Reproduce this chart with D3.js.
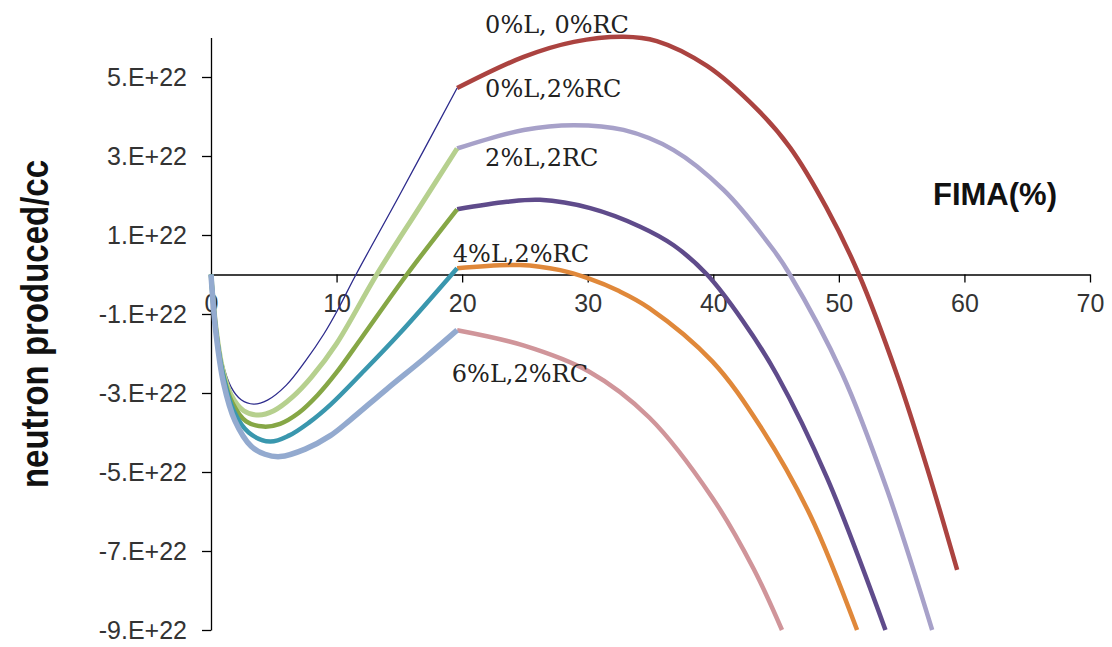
<!DOCTYPE html>
<html>
<head>
<meta charset="utf-8">
<script src="https://cdn.jsdelivr.net/npm/d3@7/dist/d3.min.js"></script>
<style>
  html, body { margin: 0; padding: 0; background: #fff; }
  svg { display: block; }
</style>
</head>
<body>
<svg id="chart" width="1112" height="647"></svg>
<script>
// ---------------- DATA ----------------
const UNIT = 1e22;
const xTicks = [0, 10, 20, 30, 40, 50, 60, 70];
const yTicks = [-9, -7, -5, -3, -1, 1, 3, 5];           // in units of 1e22
const yTickLabels = ["-9.E+22", "-7.E+22", "-5.E+22", "-3.E+22", "-1.E+22", "1.E+22", "3.E+22", "5.E+22"];
const xTitle = "FIMA(%)";
const yTitle = "neutron produced/cc";

// First stage (0 - 20 % FIMA), values in 1e22
const s1_0L0RC_x = [0, 0.4, 0.9, 1.6, 2.4, 3.4, 4.5, 6, 7.5, 9, 10, 11.55, 15, 19.6];
const s1_0L0RC_y = [0, -1.3, -2.2, -2.85, -3.17, -3.28, -3.18, -2.8, -2.2, -1.5, -0.95, 0, 2.0, 4.72];

const s1_0L2RC_x = [0, 0.4, 0.9, 1.6, 2.6, 3.8, 5, 6.5, 8, 10, 13.2, 16.5, 19.6];
const s1_0L2RC_y = [0, -1.35, -2.35, -3.05, -3.45, -3.56, -3.45, -3.1, -2.6, -1.75, 0, 1.65, 3.19];

const s1_2L2RC_x = [0, 0.4, 0.9, 1.7, 2.8, 4.2, 5.5, 7, 8.5, 10, 12, 15.6, 19.6];
const s1_2L2RC_y = [0, -1.4, -2.45, -3.25, -3.72, -3.85, -3.78, -3.5, -3.05, -2.48, -1.6, 0, 1.65];

const s1_4L2RC_x = [0, 0.4, 1, 1.8, 3, 4.7, 6.2, 7.8, 9.5, 12, 15, 19.6];
const s1_4L2RC_y = [0, -1.45, -2.6, -3.45, -4.0, -4.23, -4.08, -3.75, -3.3, -2.5, -1.5, 0.16];

const s1_6L2RC_x = [0, 0.4, 1, 1.9, 3.2, 4.3, 5.5, 7.5, 9.5, 11.1, 14, 17, 19.6];
const s1_6L2RC_y = [0, -1.5, -2.75, -3.7, -4.35, -4.55, -4.61, -4.42, -4.08, -3.68, -2.9, -2.12, -1.41];

// Second stage (from 20 % FIMA), values in 1e22
const s2_0L0RC_x = [19.6, 24.9, 28.9, 32.85, 35.5, 39.5, 43.5, 46.1, 49, 51.6, 54.64, 57.03, 59.42];
const s2_0L0RC_y = [4.72, 5.51, 5.89, 6.02, 5.91, 5.28, 4.18, 3.22, 1.7, 0, -2.55, -4.9, -7.48];

const s2_0L2RC_x = [19.6, 24.9, 28.9, 32.85, 36.84, 40.82, 44.8, 46.0, 50.25, 53.84, 57.43];
const s2_0L2RC_y = [3.19, 3.66, 3.78, 3.66, 3.15, 2.14, 0.62, 0.05, -2.5, -5.45, -9.0];

const s2_2L2RC_x = [19.6, 23.56, 26.2, 30.2, 34.18, 36.84, 39.5, 42.3, 45.08, 49.06, 53.71];
const s2_2L2RC_y = [1.65, 1.84, 1.89, 1.68, 1.21, 0.74, 0.0, -1.15, -2.55, -5.15, -9.0];

const s2_4L2RC_x = [19.6, 24.62, 27.81, 30.06, 32.5, 34.9, 39.92, 43.75, 47.73, 51.45];
const s2_4L2RC_y = [0.16, 0.24, 0.11, -0.10, -0.42, -0.85, -2.2, -3.85, -6.1, -9.0];

const s2_6L2RC_x = [19.6, 24.94, 30.06, 34.9, 39.92, 43.21, 45.47];
const s2_6L2RC_y = [-1.41, -1.80, -2.45, -3.62, -5.65, -7.45, -9.0];

const seriesLabels = ["0%L, 0%RC", "0%L,2%RC", "2%L,2RC", "4%L,2%RC", "6%L,2%RC"];
const labelX = [21.83, 21.83, 21.83, 19.26, 19.18];
const labelY = [6.11, 4.49, 2.75, 0.32, -2.71];

// ---------------- STYLE ----------------
const stage1 = [
  {x: s1_0L0RC_x, y: s1_0L0RC_y, color: "#2d2b8c", width: 1.3},
  {x: s1_0L2RC_x, y: s1_0L2RC_y, color: "#b6d08e", width: 5},
  {x: s1_2L2RC_x, y: s1_2L2RC_y, color: "#86a746", width: 4.5},
  {x: s1_4L2RC_x, y: s1_4L2RC_y, color: "#3a97ae", width: 4.5},
  {x: s1_6L2RC_x, y: s1_6L2RC_y, color: "#93aacf", width: 5.5}
];
const stage2 = [
  {x: s2_0L0RC_x, y: s2_0L0RC_y, color: "#ab4340", width: 4.5},
  {x: s2_0L2RC_x, y: s2_0L2RC_y, color: "#a7a1c9", width: 4.5},
  {x: s2_2L2RC_x, y: s2_2L2RC_y, color: "#5f4b8b", width: 4.5},
  {x: s2_4L2RC_x, y: s2_4L2RC_y, color: "#e0883a", width: 4.5},
  {x: s2_6L2RC_x, y: s2_6L2RC_y, color: "#d0959a", width: 4.5}
];

// ---------------- CHART ----------------
const svg = d3.select("#chart");
const x = d3.scaleLinear().domain([0, 70]).range([211, 1090]);
const y = d3.scaleLinear().domain([-9 * UNIT, 6 * UNIT]).range([630, 37.5]);

const line = d3.line()
  .x(d => x(d[0]))
  .y(d => y(d[1] * UNIT))
  .curve(d3.curveCatmullRom.alpha(0.5));

// axes
const yAxis = d3.axisLeft(y)
  .tickValues(yTicks.map(v => v * UNIT))
  .tickFormat((d, i) => yTickLabels[i])
  .tickSize(9).tickSizeOuter(0).tickPadding(15);
const gy = svg.append("g").attr("transform", `translate(${x(0)},0)`).call(yAxis);

const xAxis = d3.axisBottom(x)
  .tickValues(xTicks)
  .tickFormat(d => d)
  .tickSize(8).tickSizeOuter(0).tickPadding(12);
const gx = svg.append("g").attr("transform", `translate(0,${y(0)})`).call(xAxis);

[gx, gy].forEach(g => {
  g.select(".domain").attr("stroke", "#000").attr("stroke-width", 1.3);
  g.selectAll(".tick line").attr("stroke", "#000").attr("stroke-width", 1.3);
  g.selectAll(".tick text")
    .attr("fill", "#333")
    .style("font-family", "'Liberation Sans', Arial, sans-serif")
    .style("font-size", "25px");
});

// lines
const gl = svg.append("g");
stage2.forEach(s => {
  gl.append("path")
    .datum(s.x.map((v, i) => [v, s.y[i]]))
    .attr("fill", "none")
    .attr("stroke", s.color)
    .attr("stroke-width", s.width)
    .attr("stroke-linejoin", "round")
    .attr("d", line);
});
stage1.forEach(s => {
  gl.append("path")
    .datum(s.x.map((v, i) => [v, s.y[i]]))
    .attr("fill", "none")
    .attr("stroke", s.color)
    .attr("stroke-width", s.width)
    .attr("stroke-linejoin", "round")
    .attr("d", line);
});

// series labels
seriesLabels.forEach((t, i) => {
  svg.append("text")
    .attr("x", x(labelX[i]))
    .attr("y", y(labelY[i] * UNIT))
    .attr("fill", "#222")
    .style("font-family", "'DejaVu Serif', serif")
    .style("font-size", "24px")
    .text(t);
});

// axis titles
svg.append("text")
  .attr("x", 933).attr("y", 205)
  .attr("fill", "#111")
  .style("font-family", "'Liberation Sans', Arial, sans-serif")
  .style("font-weight", "bold")
  .style("font-size", "31px")
  .text(xTitle);

svg.append("text")
  .attr("transform", "translate(48,324) scale(1.15,1) rotate(-90)")
  .attr("text-anchor", "middle")
  .attr("fill", "#111")
  .style("font-family", "'Liberation Sans', Arial, sans-serif")
  .style("font-weight", "bold")
  .style("font-size", "33px")
  .text(yTitle);
</script>
</body>
</html>
